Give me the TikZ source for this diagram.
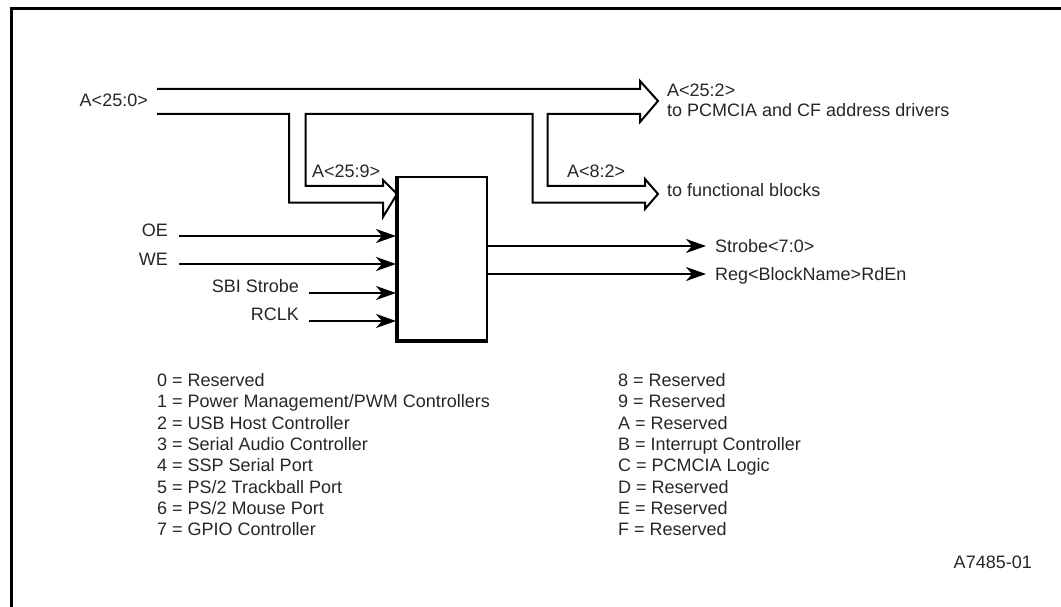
\documentclass[tikz,border=0pt]{standalone}
\usepackage{fontspec}
\setmainfont{Liberation Sans}
\usetikzlibrary{arrows.meta}
\tikzset{
  lbl/.style={inner sep=0pt, font=\fontsize{18}{21}\selectfont, text=black!85},
  sig/.style={line width=2pt, -{Stealth[length=20pt,width=14pt,inset=6pt]}},
  bus/.style={line width=2pt, line join=miter},
  frame/.style={line width=3pt},
}
\begin{document}
\begin{tikzpicture}[x=1pt,y=-1pt]
\useasboundingbox (0,0) rectangle (1061,607);
% frame (top and left only visible)
\draw[frame] (11,607) -- (11,9) -- (1061,9);

% decoder block
\node[draw, line width=2pt, minimum width=90pt, minimum height=164pt, inner sep=0pt] (blk) at (442,259) {};
\draw[line width=4pt] ([xshift=1pt]blk.north west) -- ([xshift=1pt,yshift=1pt]blk.south west) -- ([yshift=1pt]blk.south east);

% address bus outline with branches
\draw[bus] (157,89) -- (640,89) -- (640,81) -- (658,101) -- (640,122) -- (640,114)
  -- (547.7,114) -- (547.7,186) -- (645,186) -- (645,179) -- (658,194) -- (645,209) -- (645,202.7)
  -- (532.7,202.7) -- (532.7,114) -- (305.5,114) -- (305.5,186) -- (383,186) -- (383,180)
  -- (397,194) -- (383,217) -- (383,202.7) -- (289,202.7) -- (289,114) -- (157,114);

% bus labels
\node[lbl, anchor=base east] (a250) at (148,106.5) {A<25:0>};
\node[lbl, anchor=base west] (a259) at (312,178) {A<25:9>};
\node[lbl, anchor=base west] (a252) at (667,96.7) {A<25:2>};
\node[lbl, anchor=base west] (pcm) at (667,117) {to PCMCIA and CF address drivers};
\node[lbl, anchor=base west] (a82) at (567,177.7) {A<8:2>};
\node[lbl, anchor=base west] (fb) at (667,196.7) {to functional blocks};

% inputs
\node[lbl, anchor=base east] (oe) at (168,236.5) {OE};
\node[lbl, anchor=base east] (we) at (168,265.5) {WE};
\node[lbl, anchor=base east] (sbi) at (299,292.5) {SBI Strobe};
\node[lbl, anchor=base east] (rclk) at (299,320.5) {RCLK};
\coordinate (oeS) at (179,236);
\coordinate (weS) at (179,264);
\coordinate (sbiS) at (309,293);
\coordinate (rclkS) at (309,321);
\draw[sig] (oeS) -- (oeS -| blk.west);
\draw[sig] (weS) -- (weS -| blk.west);
\draw[sig] (sbiS) -- (sbiS -| blk.west);
\draw[sig] (rclkS) -- (rclkS -| blk.west);

% outputs
\node[lbl, anchor=base west] (strobe) at (715,252) {Strobe<7:0>};
\node[lbl, anchor=base west] (reg) at (715,280) {Reg<BlockName>RdEn};
\coordinate (stE) at (706,246);
\coordinate (rgE) at (706,274);
\draw[sig] (stE -| blk.east) -- (stE);
\draw[sig] (rgE -| blk.east) -- (rgE);

% legend
\foreach \t [count=\i from 0] in {0 = Reserved, 1 = Power Management/PWM Controllers, 2 = USB Host Controller, 3 = Serial Audio Controller, 4 = SSP Serial Port, 5 = PS/2 Trackball Port, 6 = PS/2 Mouse Port, 7 = GPIO Controller}
  \node[lbl, anchor=base west] (l\i) at (157,386.5+21.3*\i) {\t};
\foreach \t [count=\i from 8] in {8 = Reserved, 9 = Reserved, A = Reserved, B = Interrupt Controller, C = PCMCIA Logic, D = Reserved, E = Reserved, F = Reserved}
  \node[lbl, anchor=base west] (r\i) at (618,386.5+21.3*\i-21.3*8) {\t};

\node[lbl, anchor=base east] (id) at (1032,568.5) {A7485-01};
\end{tikzpicture}
\end{document}
